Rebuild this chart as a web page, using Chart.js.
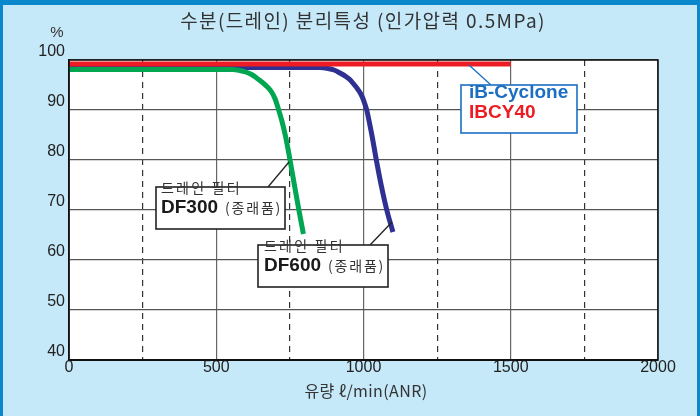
<!DOCTYPE html>
<html><head><meta charset="utf-8">
<script src="https://cdn.jsdelivr.net/npm/chart.js@4/dist/chart.umd.min.js"></script>
<style>html,body{margin:0;padding:0;background:#c6e9f9;overflow:hidden}canvas{display:block}</style>
</head><body>
<canvas id="c" width="700" height="416"></canvas>
<script>
// ---- data ----
const titleText = '수분(드레인) 분리특성 (인가압력 0.5MPa)';
const xTitle = '유량 ℓ/min(ANR)';
const yUnit = '%';
const xMin = 0, xMax = 2000, xStep = 500, xMinorStep = 250;
const yMin = 40, yMax = 100, yStep = 10;

const cycloneX = [0, 1500];
const cycloneY = [99.2, 99.2];

const df300X = [0, 557, 580, 600, 620, 637, 655, 672, 688, 700, 711, 722, 735, 748, 763, 779, 796];
const df300Y = [98.1, 98.1, 97.9, 97.6, 97.1, 96.4, 95.6, 94.7, 93.6, 92.2, 90.2, 88.0, 84.8, 80.8, 75.8, 70.5, 65.2];

const df600X = [0, 852, 880, 900, 920, 940, 955, 968, 980, 990, 998, 1004, 1011, 1020, 1030, 1042, 1060, 1079, 1100];
const df600Y = [98.5, 98.5, 98.3, 98.0, 97.4, 96.7, 96.0, 95.1, 94.2, 93.3, 92.3, 91.3, 90.0, 87.5, 84.5, 80.5, 75.0, 70.0, 65.6];

const labelDF300 = ['드레인 필터', 'DF300', '(종래품)'];
const labelDF600 = ['드레인 필터', 'DF600', '(종래품)'];
const labelCyclone = ['iB-Cyclone', 'IBCY40'];

const zip = (xs, ys) => xs.map((x, i) => ({x, y: ys[i]}));

const RED = '#ed1c24', BLUE = '#2e3192', GREEN = '#00a651', CYAN_TXT = '#1b6ec2';
const SANS = '"Liberation Sans", Arial, sans-serif';

const decor = {
  id: 'decor',
  beforeDraw(chart) {
    const {ctx, chartArea: a, width, height} = chart;
    ctx.save();
    ctx.fillStyle = '#c6e9f9';
    ctx.fillRect(0, 0, width, height);
    ctx.fillStyle = '#0b87cc';
    ctx.fillRect(0, 0, width, 5);
    ctx.fillRect(0, 0, 3, height);
    ctx.fillRect(width - 3, 0, 3, height);
    ctx.fillStyle = '#ffffff';
    ctx.fillRect(a.left, a.top, a.right - a.left, a.bottom - a.top);
    ctx.restore();
  },
  afterDraw(chart) {
    const {ctx, chartArea: a, scales} = chart;
    const X = v => scales.x.getPixelForValue(v), Y = v => scales.y.getPixelForValue(v);
    ctx.save();
    ctx.strokeStyle = '#111';
    ctx.lineWidth = 1.5;
    ctx.strokeRect(a.left, a.top, a.right - a.left, a.bottom - a.top);

    ctx.fillStyle = '#333';
    ctx.textAlign = 'center';
    ctx.textBaseline = 'middle';
    ctx.font = '19px "Noto Sans CJK KR"';
    ctx.letterSpacing = '1.4px';
    ctx.fillText(titleText, 363, 21);
    ctx.letterSpacing = '0px';
    ctx.font = '15px ' + SANS;
    ctx.fillText(yUnit, 57, 33);
    ctx.font = '16px "Noto Sans CJK KR"';
    ctx.letterSpacing = '0.4px';
    ctx.fillText(xTitle, 366, 391);
    ctx.letterSpacing = '0px';

    const leader = (x0, y0, vx, vy, color) => {
      ctx.strokeStyle = color; ctx.lineWidth = 1.3;
      ctx.beginPath(); ctx.moveTo(x0, y0); ctx.lineTo(X(vx), Y(vy)); ctx.stroke();
    };
    leader(268, 187, 747, 79.6, '#222');
    leader(370, 245, 1097, 67.6, '#222');
    leader(491, 85, 1358, 99.0, CYAN_TXT);

    const box = (x, y, w, h, color) => {
      ctx.fillStyle = '#fff'; ctx.fillRect(x, y, w, h);
      ctx.strokeStyle = color; ctx.lineWidth = 1.6; ctx.strokeRect(x, y, w, h);
    };
    const dfLabel = (x, y, lines) => {
      ctx.textAlign = 'left'; ctx.textBaseline = 'middle';
      ctx.fillStyle = '#333';
      ctx.font = '14px "Noto Sans CJK KR"';
      ctx.letterSpacing = '2.2px';
      ctx.fillText(lines[0], x, y);
      ctx.letterSpacing = '0px';
      ctx.fillStyle = '#1a1a1a';
      ctx.font = 'bold 19px ' + SANS;
      ctx.fillText(lines[1], x, y + 20);
      const w = ctx.measureText(lines[1]).width;
      ctx.fillStyle = '#333';
      ctx.font = '14px "Noto Sans CJK KR"';
      ctx.letterSpacing = '1.8px';
      ctx.fillText(lines[2], x + w + 7, y + 20);
      ctx.letterSpacing = '0px';
    };
    box(156, 187, 129, 42, '#222');
    dfLabel(161, 188, labelDF300);
    box(258, 245, 130, 42, '#222');
    dfLabel(264, 246, labelDF600);

    box(461, 85, 116, 48, CYAN_TXT);
    ctx.textAlign = 'left';
    ctx.font = 'bold 19px ' + SANS;
    ctx.fillStyle = CYAN_TXT;
    ctx.fillText(labelCyclone[0], 469, 93);
    ctx.fillStyle = RED;
    ctx.fillText(labelCyclone[1], 469, 113);
    ctx.restore();
  }
};

new Chart(document.getElementById('c'), {
  type: 'line',
  data: {
    datasets: [
      {label: labelCyclone[1], data: zip(cycloneX, cycloneY), borderColor: RED},
      {label: labelDF300[1], data: zip(df300X, df300Y), borderColor: GREEN},
      {label: labelDF600[1], data: zip(df600X, df600Y), borderColor: BLUE}
    ].map(d => Object.assign(d, {borderWidth: 5, pointRadius: 0, fill: false, cubicInterpolationMode: 'monotone', borderCapStyle: 'butt', borderJoinStyle: 'round'}))
  },
  options: {
    responsive: false,
    animation: false,
    devicePixelRatio: 1,
    layout: {padding: {left: 0, right: 42, top: 60, bottom: 0}},
    plugins: {legend: {display: false}, tooltip: {enabled: false}, title: {display: false}},
    scales: {
      x: {
        type: 'linear', min: xMin, max: xMax,
        ticks: {stepSize: xStep, color: '#222', font: {family: SANS, size: 16}, padding: -2, maxRotation: 0, callback: v => String(v)},
        grid: {color: '#666', lineWidth: 1.2, drawTicks: false},
        border: {color: '#111', width: 2},
        afterFit: s => { s.height = 56; }
      },
      x2: {
        type: 'linear', min: xMin, max: xMax, position: 'bottom',
        ticks: {stepSize: xMinorStep, display: false},
        grid: {color: c => (c.tick && c.tick.value % xStep === 0) ? 'rgba(0,0,0,0)' : '#333', lineWidth: 1.2, drawTicks: false},
        border: {display: false, dash: [6, 5]},
        afterFit: s => { s.height = 0; }
      },
      y: {
        type: 'linear', min: yMin, max: yMax,
        ticks: {stepSize: yStep, color: '#222', font: {family: SANS, size: 16}, padding: 4, labelOffset: -8, callback: v => String(v)},
        grid: {color: '#555', lineWidth: 1.2, drawTicks: false},
        border: {color: '#111', width: 1.5},
        afterFit: s => { s.width = 69; }
      }
    }
  },
  plugins: [decor]
});
</script>
</body></html>
